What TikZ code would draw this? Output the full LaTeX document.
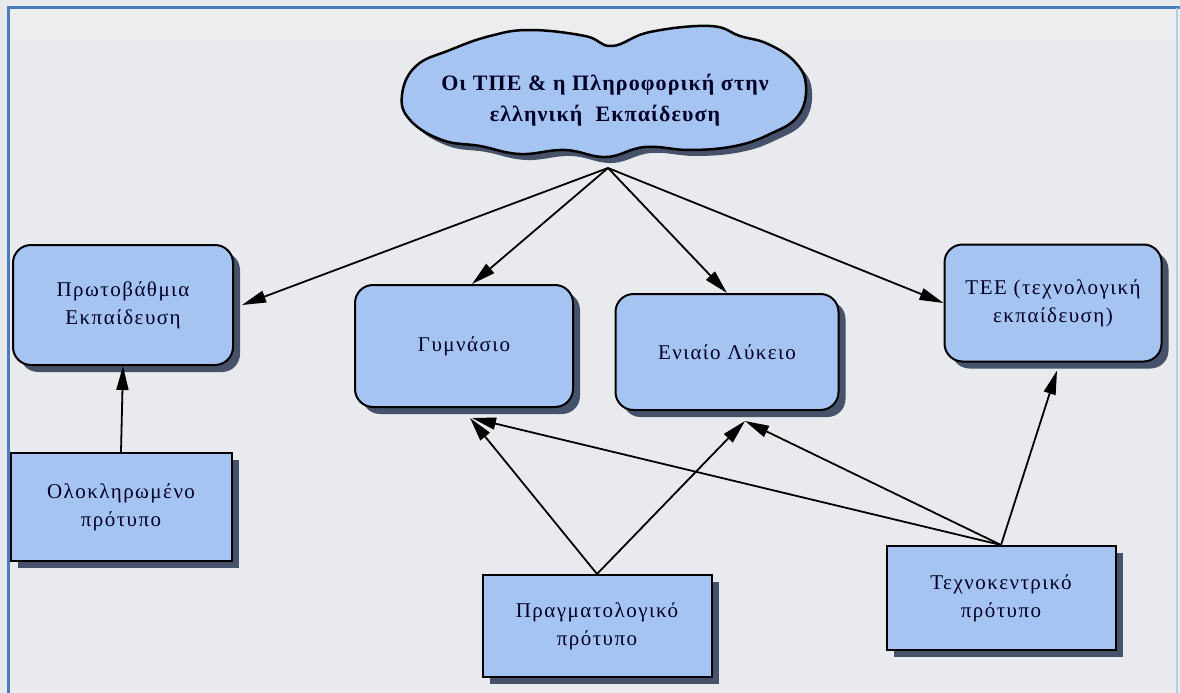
\documentclass[tikz,border=0pt]{standalone}
\usepackage{fontspec}
\setmainfont{Liberation Serif}
\usetikzlibrary{shadows,arrows.meta}
\definecolor{bg}{HTML}{E8EAED}
\definecolor{boxfill}{HTML}{A6C4F2}
\definecolor{shadowc}{HTML}{46526A}
\definecolor{frame}{HTML}{4A7EBB}
\tikzset{
  x=1pt,y=-1pt,
  base/.style={draw=black, line width=2pt, fill=boxfill, align=center,
    font=\fontsize{21}{28}\selectfont\addfontfeature{LetterSpace=7}, text=black!85!blue,
    drop shadow={shadow xshift=7pt, shadow yshift=-7pt, fill=shadowc, opacity=1}},
  rbox/.style={base, rounded corners=18pt},
  sbox/.style={base},
  conn/.style={line width=1.8pt, -{Triangle[length=24pt,width=12pt]}},
}
\begin{document}
\begin{tikzpicture}
\useasboundingbox (0,0) rectangle (1180,693);
\fill[bg] (0,0) rectangle (1180,693);
\fill[white, opacity=0.15] (10,10) rectangle (1180,40);
\draw[frame, line width=3pt] (8,693) -- (8,8) -- (1180,8);
\draw[frame!40, line width=2pt] (1177,8) -- (1177,693);
% cloud outline
\def\cloudpath{plot[smooth cycle, tension=0.7] coordinates {(402,95) (416,66) (450,50) (490,36) (530,30) (585,36) (612,46) (650,32) (710,26) (740,36) (768,44) (795,62) (806,86) (798,116) (770,134) (735,146) (690,150) (645,147) (606,157) (565,150) (520,154) (480,146) (442,140) (410,120)}}
\begin{scope}[shift={(6,6)}]
\fill[shadowc] \cloudpath;
\end{scope}
\draw[fill=boxfill, line width=2.5pt] \cloudpath;
\node[align=center, font=\bfseries\fontsize{22}{31}\selectfont\addfontfeature{LetterSpace=5}, text=black!85!blue] (cloud) at (605,100)
  {Οι ΤΠΕ \& η Πληροφορική στην\\ελληνική \ Εκπαίδευση};
\coordinate (src) at (608,168);
% boxes
\node[rbox, minimum width=220pt, minimum height=120pt] (prwto) at (123,305) {Πρωτοβάθμια\\Εκπαίδευση};
\node[rbox, minimum width=218pt, minimum height=122pt] (gym) at (464,346) {Γυμνάσιο};
\node[rbox, minimum width=223pt, minimum height=116pt] (lyk) at (727,352) {Ενιαίο Λύκειο};
\node[rbox, minimum width=217pt, minimum height=117pt] (tee) at (1053,303) {ΤΕΕ (τεχνολογική\\εκπαίδευση)};
\node[sbox, minimum width=221pt, minimum height=108pt] (olok) at (121,507) {Ολοκληρωμένο\\πρότυπο};
\node[sbox, minimum width=229pt, minimum height=102pt] (pragm) at (597,626) {Πραγματολογικό\\πρότυπο};
\node[sbox, minimum width=229pt, minimum height=104pt] (texno) at (1001,598) {Τεχνοκεντρικό\\πρότυπο};
% connectors
\draw[conn] (src) -- ([xshift=8pt]prwto.east);
\draw[conn] (src) -- ([xshift=8pt]gym.north);
\draw[conn] (src) -- (lyk.north);
\draw[conn] (src) -- (tee.west);
\draw[conn] (olok.north) -- (prwto.south);
\draw[conn] (pragm.north) -- ([xshift=6pt,yshift=-10pt]gym.south);
\draw[conn] (pragm.north) -- ([xshift=18pt,yshift=-10pt]lyk.south);
\draw[conn] (texno.north) -- ([xshift=8pt,yshift=-10pt]gym.south);
\draw[conn] (texno.north) -- ([xshift=18pt,yshift=-10pt]lyk.south);
\draw[conn] (texno.north) -- ([xshift=4pt,yshift=-8pt]tee.south);
\end{tikzpicture}
\end{document}
